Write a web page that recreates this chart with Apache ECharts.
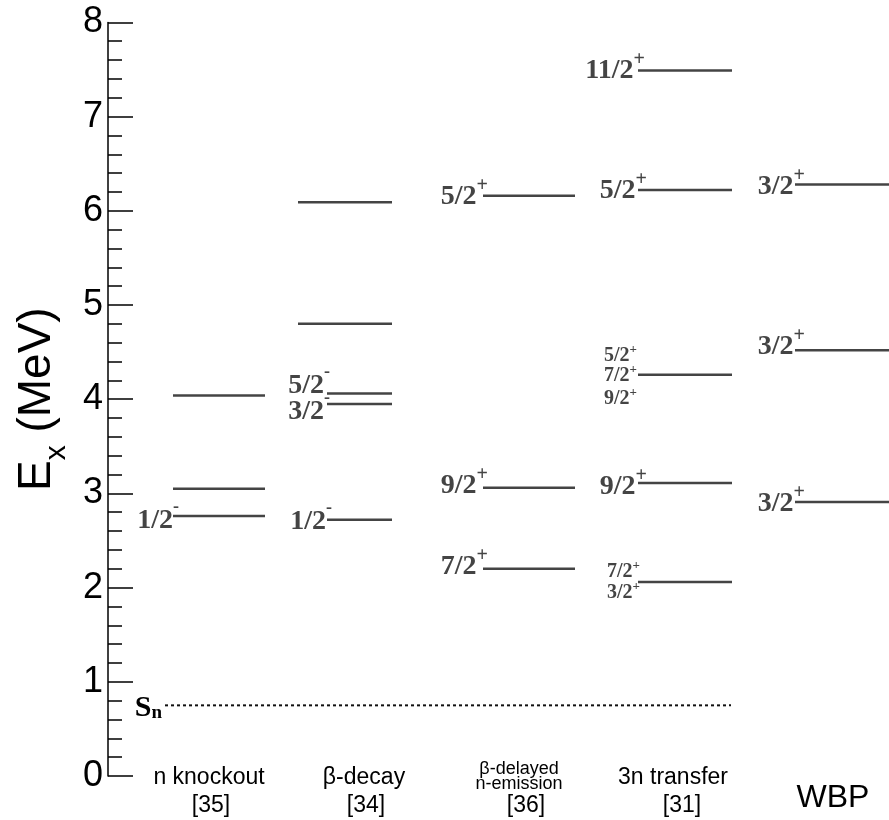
<!DOCTYPE html>
<html><head><meta charset="utf-8">
<script src="https://cdn.jsdelivr.net/npm/echarts@6/dist/echarts.min.js"></script>
<style>html,body{margin:0;padding:0;background:#fff}#c{width:889px;height:820px}</style>
</head><body><div id="c"></div>
<script>
// ---------------- data ----------------
const methods = ['n knockout', 'β-decay', 'β-delayed\nn-emission', '3n transfer', 'WBP'];
const references = ['[35]', '[34]', '[36]', '[31]', ''];

const knockoutEnergies = [4.04, 3.05, 2.76];
const knockoutSpins = ['', '', '1/2-'];

const betaDecayEnergies = [6.09, 4.80, 4.06, 3.95, 2.72];
const betaDecaySpins = ['', '', '5/2-', '3/2-', '1/2-'];

const betaDelayedEnergies = [6.16, 3.06, 2.20];
const betaDelayedSpins = ['5/2+', '9/2+', '7/2+'];

const transferEnergies = [7.49, 6.22, 4.26, 3.11, 2.06];
const transferSpins = ['11/2+', '5/2+', ['5/2+', '7/2+', '9/2+'], '9/2+', ['7/2+', '3/2+']];

const wbpEnergies = [6.28, 4.52, 2.91];
const wbpSpins = ['3/2+', '3/2+', '3/2+'];

const neutronSeparationEnergy = 0.75;
const separationLabel = ['S', 'n'];

const yAxisMin = 0, yAxisMax = 8, yAxisInterval = 1;

// ---------------- layout (positions / styles only) ----------------
const layout = {
  colSpan: [[65, 157], [190, 284], [375, 467], [530, 624], [687, 781]],
  labeledStart: [null, 219, null, null, null],
  // [dx from line start to label right edge, dy of label centre]
  offsets: [
    [null, null, [6, 5]],
    [null, null, [3, -8], [3, 8], [5, 2]],
    [[5, 1.5], [5, -2], [5, -2]],
    [[7, 0], [9, 1], [[-1, -19], [-1, 1], [-1, 24]], [9, 4], [[2, -10], [2, 11]]],
    [[10, 2], [10, -3], [10, 2]]
  ],
  methodX: [101, 256, 411, 565, 725],
  methodDy: [2, 2, 1, 2, 22],
  refX: [103, 258, 418, 574, 0],
  refDy: 30,
  snSpan: [57, 623],
  snLabelX: 54,
  snLabelDy: 3
};
const levelColor = '#444';

const columnsE = [knockoutEnergies, betaDecayEnergies, betaDelayedEnergies, transferEnergies, wbpEnergies];
const columnsJ = [knockoutSpins, betaDecaySpins, betaDelayedSpins, transferSpins, wbpSpins];

const levelItems = [];
const levelMeta = [];
columnsE.forEach((arr, c) => {
  arr.forEach((e, i) => {
    const spin = columnsJ[c][i];
    let x0 = layout.colSpan[c][0];
    if (spin && layout.labeledStart[c] != null) x0 = layout.labeledStart[c];
    levelItems.push([x0, layout.colSpan[c][1], e]);
    levelMeta.push({ spin: spin, off: layout.offsets[c][i] });
  });
});

function spinRich(s, small) {
  const base = s.slice(0, -1);
  const parity = s.slice(-1);
  const pre = small ? 's' : 'b';
  const supKey = parity === '+' ? pre + 'p' : pre + 'm';
  return '{' + pre + 'n|' + base + '}{' + supKey + '|' + (parity === '+' ? '+' : '-') + '}';
}
const serif = '"Liberation Serif", "Times New Roman", serif';
const labelRich = {
  bn: { fontFamily: serif, fontWeight: 'bold', fontSize: 28, lineHeight: 28, color: levelColor },
  bp: { fontFamily: serif, fontWeight: 'bold', fontSize: 20, lineHeight: 28, padding: [0, 0, 22, 0], color: levelColor },
  bm: { fontFamily: serif, fontWeight: 'bold', fontSize: 18, lineHeight: 28, padding: [0, 0, 27, 0], color: levelColor },
  sn: { fontFamily: serif, fontWeight: 'bold', fontSize: 20, lineHeight: 20, color: levelColor },
  sp: { fontFamily: serif, fontWeight: 'bold', fontSize: 13, lineHeight: 20, padding: [0, 0, 13, 0], color: levelColor },
  sm: { fontFamily: serif, fontWeight: 'bold', fontSize: 13, lineHeight: 20, padding: [0, 0, 13, 0], color: levelColor }
};

function makeLabel(x, y, spin, small) {
  return {
    type: 'text',
    style: {
      x: x, y: y, text: spinRich(spin, small), align: 'right', verticalAlign: 'middle',
      rich: labelRich, fill: levelColor
    }
  };
}

const sans = '"Liberation Sans", Arial, Helvetica, sans-serif';

const chart = echarts.init(document.getElementById('c'), null, { renderer: 'canvas' });
chart.setOption({
  backgroundColor: '#fff',
  animation: false,
  grid: { left: 108, right: 0, top: 22.4, bottom: 44, containLabel: false, outerBoundsMode: 'none' },
  xAxis: { type: 'value', min: 0, max: 781, show: false },
  yAxis: {
    type: 'value', min: yAxisMin, max: yAxisMax, interval: yAxisInterval,
    axisLine: { show: true, lineStyle: { color: '#000', width: 1.5 } },
    axisTick: { show: true, inside: true, length: 25, lineStyle: { color: '#000', width: 1.5 } },
    minorTick: { show: true, splitNumber: 5, length: 14, lineStyle: { color: '#000', width: 1.5 } },
    splitLine: { show: false },
    minorSplitLine: { show: false },
    axisLabel: { fontSize: 36, color: '#000', margin: 5, fontFamily: sans },
    name: '{e|E}{x|x}{e| (MeV)}',
    nameLocation: 'middle',
    nameGap: 47,
    nameTextStyle: {
      rich: {
        e: { fontSize: 46, fontFamily: sans, color: '#000', lineHeight: 46 },
        x: { fontSize: 30, fontFamily: sans, color: '#000', lineHeight: 46, padding: [40, 0, 0, 0] }
      }
    }
  },
  series: [
    {
      type: 'custom',
      coordinateSystem: 'cartesian2d',
      clip: false,
      data: levelItems,
      encode: { x: [0, 1], y: 2 },
      renderItem: function (params, api) {
        const e = api.value(2);
        const p0 = api.coord([api.value(0), e]);
        const p1 = api.coord([api.value(1), e]);
        const children = [{
          type: 'line',
          shape: { x1: p0[0], y1: p0[1], x2: p1[0], y2: p1[1] },
          style: { stroke: levelColor, lineWidth: 2.5 }
        }];
        const meta = levelMeta[params.dataIndex];
        if (meta.spin) {
          if (Array.isArray(meta.spin)) {
            meta.spin.forEach((s, k) => {
              const o = meta.off[k];
              children.push(makeLabel(p0[0] + o[0], p0[1] + o[1], s, true));
            });
          } else {
            children.push(makeLabel(p0[0] + meta.off[0], p0[1] + meta.off[1], meta.spin, false));
          }
        }
        return { type: 'group', children: children };
      }
    },
    {
      type: 'custom',
      coordinateSystem: 'cartesian2d',
      clip: false,
      data: [[layout.snSpan[0], layout.snSpan[1], neutronSeparationEnergy]],
      encode: { x: [0, 1], y: 2 },
      renderItem: function (params, api) {
        const e = api.value(2);
        const p0 = api.coord([api.value(0), e]);
        const p1 = api.coord([api.value(1), e]);
        const pl = api.coord([layout.snLabelX, e]);
        return {
          type: 'group',
          children: [
            {
              type: 'line',
              shape: { x1: p0[0], y1: p0[1], x2: p1[0], y2: p1[1] },
              style: { stroke: '#111', lineWidth: 2, lineDash: [3, 3] }
            },
            {
              type: 'text',
              style: {
                x: pl[0], y: pl[1] + layout.snLabelDy, align: 'right', verticalAlign: 'middle',
                text: '{s|' + separationLabel[0] + '}{n|' + separationLabel[1] + '}',
                rich: {
                  s: { fontFamily: serif, fontWeight: 'bold', fontSize: 30, lineHeight: 30, color: '#111' },
                  n: { fontFamily: serif, fontWeight: 'bold', fontSize: 19, lineHeight: 30, padding: [10, 0, 0, 0], color: '#111' }
                }
              }
            }
          ]
        };
      }
    },
    {
      type: 'custom',
      coordinateSystem: 'cartesian2d',
      clip: false,
      data: methods.map((m, i) => [layout.methodX[i], yAxisMin]),
      renderItem: function (params, api) {
        const i = params.dataIndex;
        const p = api.coord([api.value(0), api.value(1)]);
        const children = [];
        const name = methods[i];
        const isTwoLine = name.indexOf('\n') >= 0;
        const isWBP = references[i] === '';
        children.push({
          type: 'text',
          style: {
            x: p[0], y: p[1] + layout.methodDy[i], align: 'center', verticalAlign: 'middle',
            text: name, fill: '#000', fontFamily: sans,
            fontSize: isWBP ? 32 : (isTwoLine ? 18 : 23),
            lineHeight: isTwoLine ? 15 : 26
          }
        });
        if (references[i]) {
          const pr = api.coord([layout.refX[i], yAxisMin]);
          children.push({
            type: 'text',
            style: {
              x: pr[0], y: pr[1] + layout.refDy, align: 'center', verticalAlign: 'middle',
              text: references[i], fill: '#000', fontFamily: sans, fontSize: 23
            }
          });
        }
        return { type: 'group', children: children };
      }
    }
  ]
});
</script></body></html>
